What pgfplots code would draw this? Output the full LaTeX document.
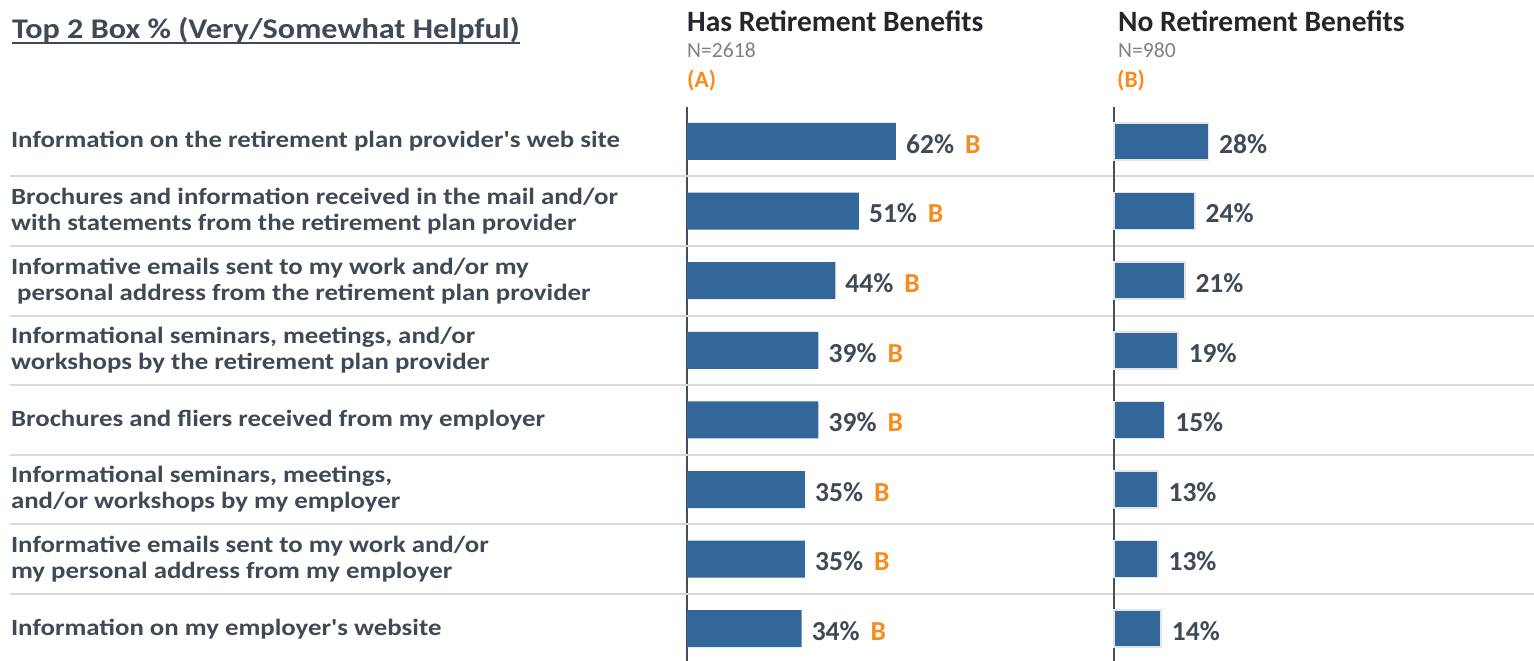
\documentclass[border=0pt]{standalone}
\usepackage{pgfplots}
\pgfplotsset{compat=1.18}
\usepackage{fontspec}
\setmainfont{Carlito}
\newfontfamily\labf{Carlito}[FakeStretch=1.152]
\newfontfamily\titf{Carlito}[FakeStretch=1.13]
\definecolor{barblue}{RGB}{51,102,153}
\definecolor{txt}{RGB}{64,73,86}
\definecolor{ora}{RGB}{247,140,30}
\definecolor{ngray}{RGB}{128,128,128}
\definecolor{sepc}{RGB}{217,217,217}
\definecolor{axc}{RGB}{70,78,90}
\definecolor{ttl}{RGB}{35,38,42}
\definecolor{edgec}{RGB}{228,228,228}
\newcommand{\ap}{\symbol{39}}

\pgfplotsset{
  panel/.style={
    scale only axis, width=337pt, height=556.8pt,
    anchor=north west,
    xmin=0, xmax=100, ymin=-0.5, ymax=7.5, y dir=reverse,
    xbar, bar width=37pt, bar shift=0pt,
    axis x line=none, axis y line=left,
    y axis line style={-, line width=2pt, draw=axc},
    ytick={0,...,7}, ytick style={draw=none},
    clip=false,
    nodes near coords style={anchor=west, inner sep=0pt, xshift=10pt, yshift=-2.5pt,
      font=\bfseries\fontsize{27.5}{30}\selectfont, text=txt},
  }
}

\begin{document}
\begin{tikzpicture}[x=1pt,y=1pt]
\useasboundingbox (0,0) rectangle (1534,661);
\clip (0,0) rectangle (1534,661);

% headings
\node[anchor=base west, inner sep=0pt, text=txt, font=\titf\bfseries\fontsize{28.5}{32}\selectfont] (T) at (12,622) {Top 2 Box \% (Very/Somewhat Helpful)};
\draw[txt, line width=2pt] ([yshift=-4pt]T.base west) -- ([yshift=-4pt]T.base east);

\node[anchor=base west, inner sep=0pt, text=ttl, font=\bfseries\fontsize{29.5}{32}\selectfont] at (687,629) {Has Retirement Benefits};
\node[anchor=base west, inner sep=0pt, text=ngray, font=\fontsize{21.6}{24}\selectfont] at (687,603) {N=2618};
\node[anchor=base west, inner sep=0pt, text=ora, font=\bfseries\fontsize{23.5}{26}\selectfont] at (687,573) {(A)};

\node[anchor=base west, inner sep=0pt, text=ttl, font=\bfseries\fontsize{29.5}{32}\selectfont] at (1118,629) {No Retirement Benefits};
\node[anchor=base west, inner sep=0pt, text=ngray, font=\fontsize{21.6}{24}\selectfont] at (1118,603) {N=980};
\node[anchor=base west, inner sep=0pt, text=ora, font=\bfseries\fontsize{23.5}{26}\selectfont] at (1117,573) {(B)};

% Panel A
\begin{axis}[panel, at={(687pt,554.3pt)},
  yticklabels={
    {Information on the retirement plan provider\ap s web site},
    {Brochures and information received in the mail and/or\\with statements from the retirement plan provider},
    {Informative emails sent to my work and/or my\\\ personal address from the retirement plan provider},
    {Informational seminars, meetings, and/or\\workshops by the retirement plan provider},
    {Brochures and fliers received from my employer},
    {Informational seminars, meetings,\\and/or workshops by my employer},
    {Informative emails sent to my work and/or\\my personal address from my employer},
    {Information on my employer\ap s website}},
  yticklabel style={anchor=west, xshift=-674pt, align=left, inner sep=0pt,
    text=txt, font=\labf\bfseries\fontsize{23.3}{26}\selectfont},
  nodes near coords={\pgfmathprintnumber[assume math mode=true]{\pgfplotspointmeta}\%\hspace{11pt}\textcolor{ora}{B}},
]
\pgfplotsinvokeforeach{0.5,1.5,2.5,3.5,4.5,5.5,6.5}{
  \draw[sepc, line width=2pt] (axis cs:-200.9,#1) -- (axis cs:251.3,#1);
}
\addplot[fill=barblue, draw=none] coordinates {
  (62,0) (51,1) (44,2) (39,3) (39,4) (35,5) (35,6) (34,7)
};
\end{axis}

% Panel B
\begin{axis}[panel, at={(1114pt,554.3pt)},
  yticklabels={},
  nodes near coords={\pgfmathprintnumber[assume math mode=true]{\pgfplotspointmeta}\%},
]
\addplot[fill=barblue, draw=edgec, line width=1.5pt] coordinates {
  (28,0) (24,1) (21,2) (19,3) (15,4) (13,5) (13,6) (14,7)
};
\end{axis}
\end{tikzpicture}
\end{document}
